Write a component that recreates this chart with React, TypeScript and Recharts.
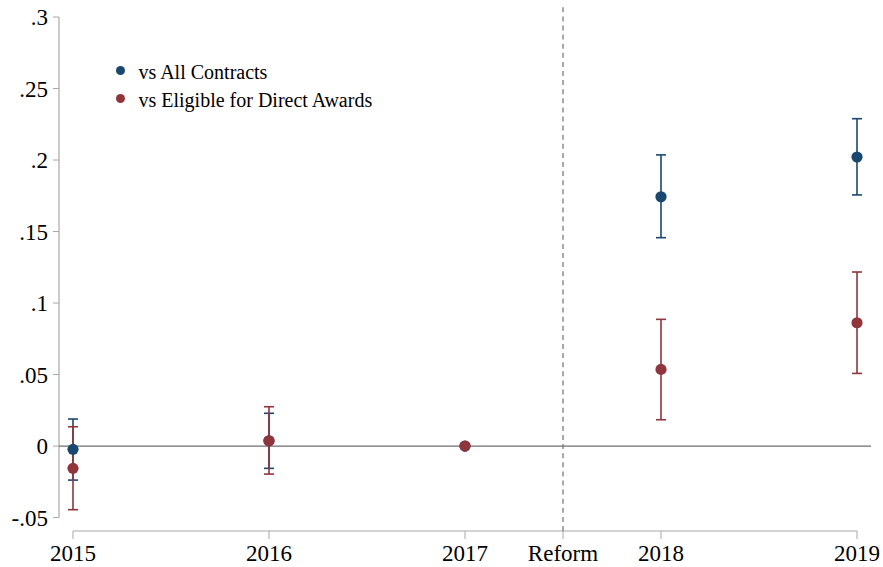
import {
  ComposedChart,
  ErrorBar,
  Legend,
  ReferenceLine,
  Scatter,
  XAxis,
  YAxis,
} from "recharts";

const years = [2015, 2016, 2017, 2018, 2019];

// vs All Contracts: estimate with 95% CI bounds
const allEst = [-0.0023, 0.0037, 0, 0.1743, 0.2021];
const allLo = [-0.0238, -0.0156, 0, 0.1457, 0.1756];
const allHi = [0.0189, 0.0229, 0, 0.2036, 0.2289];

// vs Eligible for Direct Awards
const eligEst = [-0.0156, 0.0037, 0, 0.0536, 0.0862];
const eligLo = [-0.0445, -0.0196, 0, 0.0184, 0.0508];
const eligHi = [0.0135, 0.0275, 0, 0.0886, 0.1217];

const xTicks = [2015, 2016, 2017, 2017.5, 2018, 2019];
const yTicks = [-0.05, 0, 0.05, 0.1, 0.15, 0.2, 0.25, 0.3];
const reformYear = 2017.5;

const seriesNames = ["vs All Contracts", "vs Eligible for Direct Awards"];

const NAVY = "#1a476f";
const MAROON = "#90353b";
const AXIS_GRAY = "#a8a8a8";
const FONT = "'Liberation Serif', 'Times New Roman', serif";

// axis ranges carry a little padding beyond the outer ticks
const X_DOMAIN: [number, number] = [2014.9286, 2019.0714];
const Y_DOMAIN: [number, number] = [-0.0594, 0.3091];

const errDelta = (est: number, lo: number, hi: number) =>
  lo === hi ? null : [est - lo, hi - est];

const rows = years.map((year, i) => ({
  year,
  all: allEst[i],
  allErr: errDelta(allEst[i], allLo[i], allHi[i]),
  elig: eligEst[i],
  eligErr: errDelta(eligEst[i], eligLo[i], eligHi[i]),
}));

const fmtY = (v: number) => {
  const s = String(+v.toFixed(2));
  return s.replace(/^(-?)0\./, "$1.");
};

const fmtX = (v: number) => (v === reformYear ? "Reform" : String(v));

const dot = (color: string) => (props: any) => {
  const { cx, cy } = props;
  if (cx == null || cy == null) return <g />;
  return <circle cx={cx} cy={cy} r={5.6} fill={color} />;
};

function LegendBox() {
  const colors = [NAVY, MAROON];
  return (
    <div style={{ fontFamily: FONT, fontSize: 20, color: "#000" }}>
      {seriesNames.map((name, i) => (
        <div
          key={name}
          style={{ display: "flex", alignItems: "center", height: 28.5, whiteSpace: "nowrap" }}
        >
          <span
            style={{
              display: "inline-block",
              width: 9,
              height: 9,
              borderRadius: "50%",
              background: colors[i],
              marginRight: 13.5,
              position: "relative",
              top: -2.25,
            }}
          />
          <span>{name}</span>
        </div>
      ))}
    </div>
  );
}

export default function App() {
  const tickStyle = { fontSize: 23, fill: "#000", fontFamily: FONT };
  return (
    <div style={{ position: "absolute", left: 0, top: 0, background: "#fff" }}>
      <ComposedChart
        width={883}
        height={567}
        data={rows}
        margin={{ top: 4, right: 12, bottom: 0, left: 0 }}
      >
        <XAxis
          dataKey="year"
          type="number"
          domain={X_DOMAIN}
          ticks={xTicks}
          tickFormatter={fmtX}
          axisLine={false}
          tickLine={{ stroke: AXIS_GRAY }}
          tickSize={8}
          tickMargin={6}
          height={36}
          tick={tickStyle}
          interval={0}
          allowDataOverflow
        />
        <YAxis
          type="number"
          domain={Y_DOMAIN}
          ticks={yTicks}
          tickFormatter={fmtY}
          axisLine={false}
          tickLine={{ stroke: AXIS_GRAY }}
          tickSize={6}
          tickMargin={5}
          width={59}
          tick={tickStyle}
          interval={0}
          allowDataOverflow
        />
        {/* axis lines run only across the tick range */}
        <ReferenceLine
          segment={[
            { x: X_DOMAIN[0], y: yTicks[0] },
            { x: X_DOMAIN[0], y: yTicks[yTicks.length - 1] },
          ]}
          stroke={AXIS_GRAY}
          strokeWidth={1.2}
        />
        <ReferenceLine
          segment={[
            { x: years[0], y: Y_DOMAIN[0] },
            { x: years[years.length - 1], y: Y_DOMAIN[0] },
          ]}
          stroke={AXIS_GRAY}
          strokeWidth={1.2}
        />
        <ReferenceLine y={0} stroke="#6e6e6e" strokeWidth={1.3} />
        <ReferenceLine
          x={reformYear}
          stroke="#7a7a7a"
          strokeWidth={1.3}
          strokeDasharray="5 4.1"
        />
        <Legend
          layout="horizontal"
          verticalAlign="middle"
          align="center"
          content={() => <LegendBox />}
          wrapperStyle={{ left: 116, top: 58, width: "auto" }}
        />
        <Scatter
          name={seriesNames[0]}
          dataKey="all"
          fill={NAVY}
          shape={dot(NAVY)}
          isAnimationActive={false}
        >
          <ErrorBar
            dataKey="allErr"
            direction="y"
            width={5}
            stroke={NAVY}
            strokeWidth={1.6}
            isAnimationActive={false}
          />
        </Scatter>
        <Scatter
          name={seriesNames[1]}
          dataKey="elig"
          fill={MAROON}
          shape={dot(MAROON)}
          isAnimationActive={false}
        >
          <ErrorBar
            dataKey="eligErr"
            direction="y"
            width={5}
            stroke={MAROON}
            strokeWidth={1.6}
            isAnimationActive={false}
          />
        </Scatter>
      </ComposedChart>
    </div>
  );
}
